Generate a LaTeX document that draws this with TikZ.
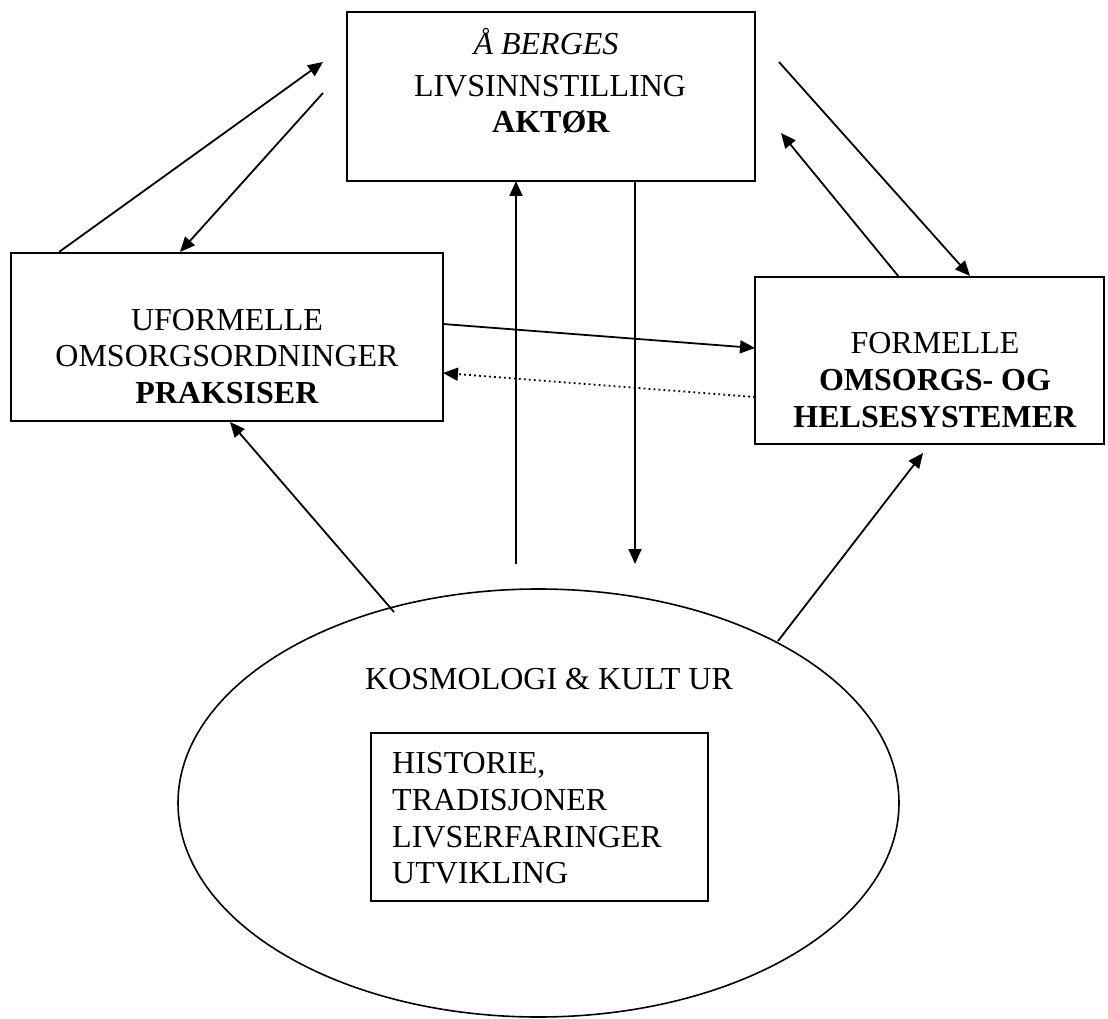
\documentclass[tikz,border=0pt]{standalone}
\usepackage{fontspec}
\setmainfont{Liberation Serif}
\usetikzlibrary{arrows.meta,shapes.geometric}
\begin{document}
\begin{tikzpicture}[x=1pt,y=-1pt,
  frame/.style={draw,line width=2pt,inner sep=0pt},
  txt/.style={inner sep=0pt,anchor=base,font=\fontsize{32pt}{37pt}\selectfont},
  txtl/.style={inner sep=0pt,anchor=base west,font=\fontsize{32pt}{37pt}\selectfont},
  conn/.style={line width=1.8pt,-{Triangle[length=15pt,width=13pt]}},
  dotconn/.style={line width=1.8pt,dash pattern=on 1.8pt off 3.2pt,-{Triangle[length=15pt,width=13pt]}}]
\useasboundingbox (0,0) rectangle (1108,1019);
% boxes
\node[frame,minimum width=408pt,minimum height=169pt] (top) at (551,96.5) {};
\node[frame,minimum width=432pt,minimum height=168pt] (lbox) at (227,337) {};
\node[frame,minimum width=349pt,minimum height=167pt] (rbox) at (929.5,360.5) {};
\node[draw,ellipse,line width=1.6pt,minimum width=721pt,minimum height=428pt,inner sep=0pt] (ell) at (538.5,803) {};
\node[draw,line width=1.6pt,inner sep=0pt,minimum width=337pt,minimum height=168pt] (inner) at (539.5,817) {};
% texts
\node[txt] (t1) at (546,55) {\textit{Å BERGES}};
\node[txt] (t2) at (550,97) {LIVSINNSTILLING};
\node[txt] (t3) at (551,133) {\textbf{AKTØR}};
\node[txt] (l1) at (227,330) {UFORMELLE};
\node[txt] (l2) at (227,366) {OMSORGSORDNINGER};
\node[txt] (l3) at (227,403) {\textbf{PRAKSISER}};
\node[txt] (r1) at (935,353) {FORMELLE};
\node[txt] (r2) at (935,390) {\textbf{OMSORGS- OG}};
\node[txt] (r3) at (935,427) {\textbf{HELSESYSTEMER}};
\node[txtl] (k0) at (365,689) {KOSMOLOGI \& KULT UR};
\node[txtl] (k1) at (392,773) {HISTORIE,};
\node[txtl] (k2) at (392,810) {TRADISJONER};
\node[txtl] (k3) at (392,847) {LIVSERFARINGER};
\node[txtl] (k4) at (392,883) {UTVIKLING};
% connector end points
\coordinate (a1s) at (59,252);  \coordinate (a1e) at (323,62);
\coordinate (a2s) at (323,93);  \coordinate (a2e) at (180,252);
\coordinate (a3s) at (779,62);  \coordinate (a3e) at (970,276);
\coordinate (a4s) at (899,277); \coordinate (a4e) at (781,133);
\coordinate (a5s) at (443,324); \coordinate (a5e) at (755,348);
\coordinate (a6s) at (755,397); \coordinate (a6e) at (443,373);
\coordinate (a7s) at (394,612); \coordinate (a7e) at (230,422);
\coordinate (a8s) at (516,564); \coordinate (a8e) at (516,181);
\coordinate (a9s) at (635,181); \coordinate (a9e) at (635,564);
\coordinate (a10s) at (778,641); \coordinate (a10e) at (923,453);
% connectors
\draw[conn] (a1s) -- (a1e);
\draw[conn] (a2s) -- (a2e);
\draw[conn] (a3s) -- (a3e);
\draw[conn] (a4s) -- (a4e);
\draw[conn] (a5s) -- (a5e);
\draw[dotconn] (a6s) -- (a6e);
\draw[conn] (a7s) -- (a7e);
\draw[conn] (a8s) -- (a8e);
\draw[conn] (a9s) -- (a9e);
\draw[conn] (a10s) -- (a10e);
\end{tikzpicture}
\end{document}
